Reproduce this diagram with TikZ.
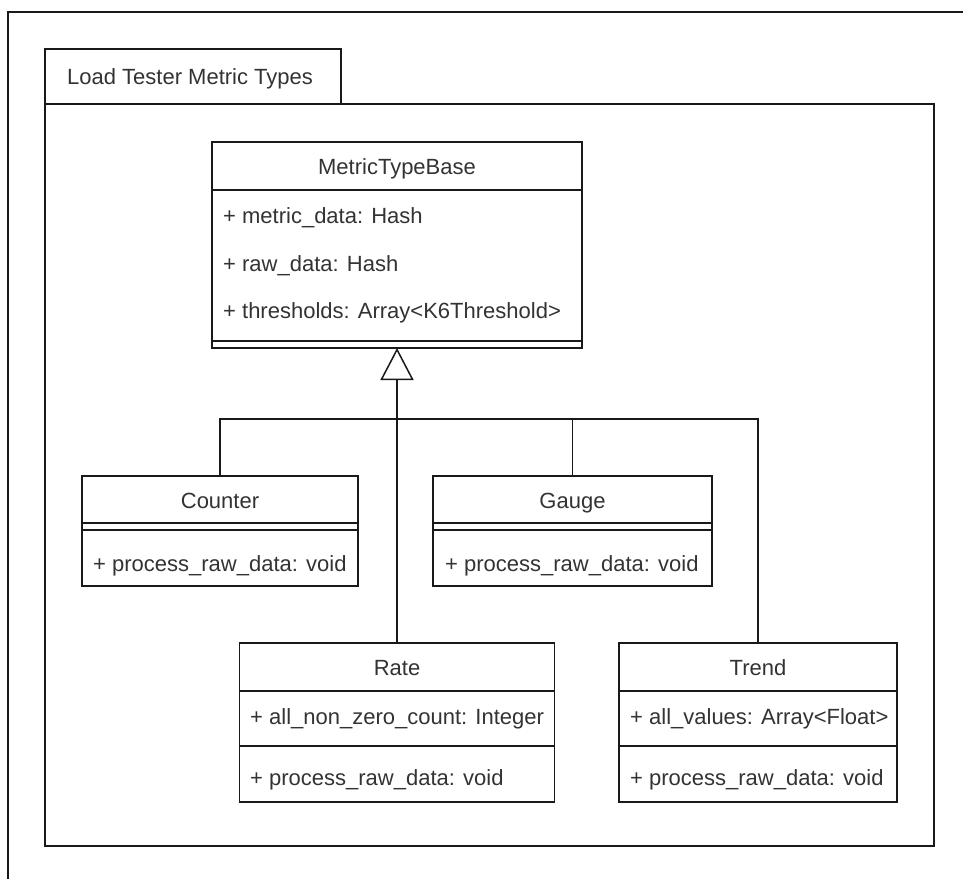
\documentclass[tikz,border=0pt]{standalone}
\usepackage{fontspec}
\setmainfont{Liberation Sans}
\usetikzlibrary{arrows.meta}
\begin{document}
\begin{tikzpicture}[x=1pt,y=-1pt,
  edge/.style={draw=black!90, line width=1.5pt},
  umlbox/.style={draw=black!90, line width=1.5pt, fill=white, rectangle,
    inner sep=0pt, outer sep=0pt},
  lbl/.style={font=\fontsize{22}{26}\selectfont, text=black!80, inner sep=0pt},
  member/.style={lbl, anchor=base west},
  title/.style={lbl, anchor=base},
]
\useasboundingbox (0,0) rectangle (963,879);

% outer frame
\coordinate (fbl) at (8,879);
\coordinate (ftl) at (8,12);
\coordinate (ftr) at (963,12);
\draw[edge] (fbl) -- (ftl) -- (ftr);

% package
\node[umlbox, minimum width=296pt, minimum height=55pt] (pkgtab) at (193,76.5) {};
\node[umlbox, minimum width=889pt, minimum height=742pt] (pkgbody) at (489.5,475) {};
\node[member] (pkgname) at (67,84) {Load Tester Metric Types};

% MetricTypeBase
\node[umlbox, minimum width=370pt, minimum height=206pt] (base) at (397,245) {};
\node[title] (basename) at (397,174) {MetricTypeBase};
\draw[edge] (base.west |- 0,190) -- (base.east |- 0,190);
\node[member] (basea1) at (223,223) {+ metric\_data: Hash};
\node[member] (basea2) at (223,271) {+ raw\_data: Hash};
\node[member] (basea3) at (223,318) {+ thresholds: Array<K6Threshold>};
\draw[edge] (base.west |- 0,341) -- (base.east |- 0,341);

% Counter
\node[umlbox, minimum width=276pt, minimum height=110pt] (counter) at (220,531) {};
\node[title] (countername) at (220,508) {Counter};
\draw[edge] (counter.west |- 0,523) -- (counter.east |- 0,523);
\draw[edge] (counter.west |- 0,530) -- (counter.east |- 0,530);
\node[member] (counterm1) at (93,571) {+ process\_raw\_data: void};

% Gauge
\node[umlbox, minimum width=279pt, minimum height=110pt] (gauge) at (572.5,531) {};
\node[title] (gaugename) at (572.5,508) {Gauge};
\draw[edge] (gauge.west |- 0,523) -- (gauge.east |- 0,523);
\draw[edge] (gauge.west |- 0,530) -- (gauge.east |- 0,530);
\node[member] (gaugem1) at (445,571) {+ process\_raw\_data: void};

% Rate
\node[umlbox, minimum width=315pt, minimum height=159pt] (rate) at (397,722.5) {};
\node[title] (ratename) at (397,675) {Rate};
\draw[edge] (rate.west |- 0,691) -- (rate.east |- 0,691);
\node[member] (ratea1) at (250,724) {+ all\_non\_zero\_count: Integer};
\draw[edge] (rate.west |- 0,746) -- (rate.east |- 0,746);
\node[member] (ratem1) at (250,785) {+ process\_raw\_data: void};

% Trend
\node[umlbox, minimum width=278pt, minimum height=159pt] (trend) at (758,722.5) {};
\node[title] (trendname) at (758,675) {Trend};
\draw[edge] (trend.west |- 0,691) -- (trend.east |- 0,691);
\node[member] (trenda1) at (630,724) {+ all\_values: Array<Float>};
\draw[edge] (trend.west |- 0,746) -- (trend.east |- 0,746);
\node[member] (trendm1) at (630,785) {+ process\_raw\_data: void};

% generalisation connectors
\coordinate (hub) at (397,419);
\draw[edge] (counter.north) |- (hub);
\draw[edge] (gauge.north) |- (hub);
\draw[edge] (trend.north) |- (hub);
\draw[edge, -{Triangle[open, length=32pt, width=33pt, fill=white]}] (rate.north) -- (base.south);
\end{tikzpicture}
\end{document}
